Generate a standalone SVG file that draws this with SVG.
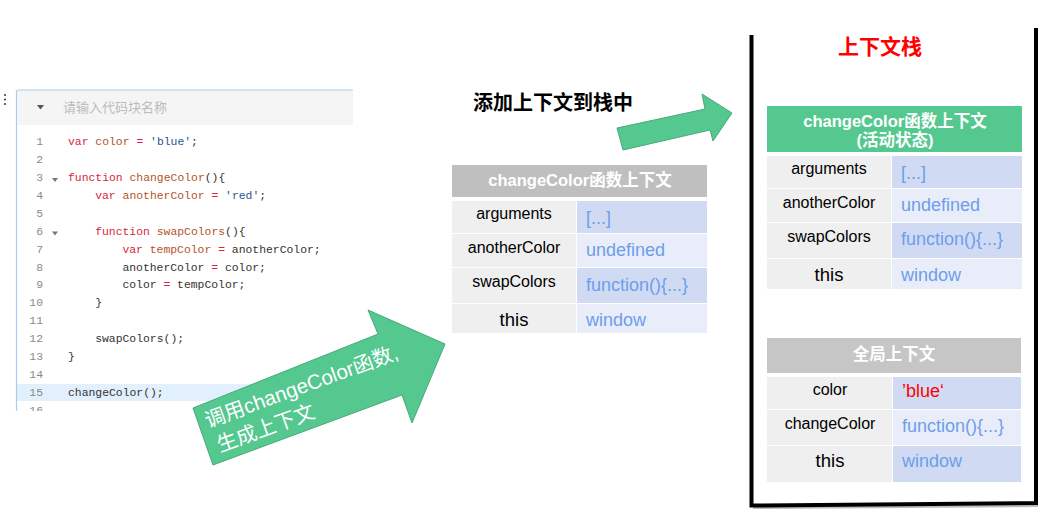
<svg xmlns="http://www.w3.org/2000/svg" width="1057" height="521" viewBox="0 0 1057 521">
<style>
text{font-family:"Liberation Sans","Noto Sans CJK SC",sans-serif;}
.code{font-family:"Liberation Mono","DejaVu Sans Mono",monospace;font-size:11.4px;fill:#333;}
.ln{font-family:"Liberation Mono","DejaVu Sans Mono",monospace;font-size:11.4px;fill:#8a8a8a;text-anchor:end;}
.kw{fill:#d7263d;}
.df{fill:#b4552a;}
.op{fill:#d7263d;}
.st{fill:#2a5490;}
.hd{fill:#fff;font-weight:bold;font-size:16.5px;text-anchor:middle;}
.k{fill:#000;font-size:16px;text-anchor:middle;}
.kt{fill:#000;font-size:18.5px;text-anchor:middle;}
.v{fill:#6d9eeb;font-size:18px;}
.lc{fill:#efefef;}
.d1{fill:#d0dbf3;}
.d2{fill:#e8edf9;}
.arrow{fill:#55c890;stroke:#49a97b;stroke-width:1;}
</style>
<defs>
<clipPath id="edclip"><rect x="16" y="90" width="337" height="321"/></clipPath>
</defs>
<rect width="1057" height="521" fill="#fff"/>

<!-- code editor -->
<g id="editor">
<circle cx="5" cy="95" r="1.1" fill="#444"/>
<circle cx="5" cy="99.5" r="1.1" fill="#444"/>
<circle cx="5" cy="104" r="1.1" fill="#444"/>
<g clip-path="url(#edclip)">
<rect x="16" y="90" width="337" height="321" fill="#fff"/>
<rect x="16" y="90" width="337" height="35" fill="#f5f5f5"/>
<rect x="17" y="384" width="336" height="17" fill="#e1f0fc"/>
<path d="M37,105 L44,105 L40.5,109.5 Z" fill="#555"/>
<text x="63" y="112" font-size="13" fill="#bbb">请输入代码块名称</text>
<path d="M52,178 L58,178 L55,182 Z" fill="#777"/>
<path d="M52,231.5 L58,231.5 L55,235.5 Z" fill="#777"/>
<text class="ln" x="43" y="145">1</text>
<text class="ln" x="43" y="162.9">2</text>
<text class="ln" x="43" y="180.9">3</text>
<text class="ln" x="43" y="198.8">4</text>
<text class="ln" x="43" y="216.7">5</text>
<text class="ln" x="43" y="234.7">6</text>
<text class="ln" x="43" y="252.6">7</text>
<text class="ln" x="43" y="270.5">8</text>
<text class="ln" x="43" y="288.4">9</text>
<text class="ln" x="43" y="306.4">10</text>
<text class="ln" x="43" y="324.3">11</text>
<text class="ln" x="43" y="342.2">12</text>
<text class="ln" x="43" y="360.2">13</text>
<text class="ln" x="43" y="378.1">14</text>
<text class="ln" x="43" y="396">15</text>
<text class="ln" x="43" y="414">16</text>
<g xml:space="preserve">
<text class="code" x="68" y="145"><tspan class="kw">var</tspan> <tspan class="df">color</tspan> <tspan class="op">=</tspan> <tspan class="st">'blue'</tspan>;</text>
<text class="code" x="68" y="180.9"><tspan class="kw">function</tspan> <tspan class="df">changeColor</tspan>(){</text>
<text class="code" x="95.2" y="198.8"><tspan class="kw">var</tspan> <tspan class="df">anotherColor</tspan> <tspan class="op">=</tspan> <tspan class="st">'red'</tspan>;</text>
<text class="code" x="95.2" y="234.7"><tspan class="kw">function</tspan> <tspan class="df">swapColors</tspan>(){</text>
<text class="code" x="122.4" y="252.6"><tspan class="kw">var</tspan> <tspan class="df">tempColor</tspan> <tspan class="op">=</tspan> anotherColor;</text>
<text class="code" x="122.4" y="270.5">anotherColor <tspan class="op">=</tspan> color;</text>
<text class="code" x="122.4" y="288.4">color <tspan class="op">=</tspan> tempColor;</text>
<text class="code" x="95.2" y="306.4">}</text>
<text class="code" x="95.2" y="342.2">swapColors();</text>
<text class="code" x="68" y="360.2">}</text>
<text class="code" x="68" y="396">changeColor();</text>
</g>
</g>
<path d="M16.5,411 L16.5,92 Q16.5,90 18.5,90 L353,90" fill="none" stroke="#a9cdf2" stroke-width="1.2"/>
</g>

<!-- connectors (arrows) -->
<g id="connectors">
<g id="arrow-call">
<polygon class="arrow" points="193,408 378,334 368,310 445,344 412,423 402,395 213,465"/>
<g transform="translate(208,428) rotate(-20)">
<text x="0" y="0" font-size="20.5" fill="#fff">调用changeColor函数,</text>
<text x="3" y="27" font-size="20.5" fill="#fff">生成上下文</text>
</g>
</g>
<g id="arrow-push">
<polygon class="arrow" points="617,128 705,109 702,94 732,113 713,141 710,130 623,150"/>
</g>
</g>
<text x="473" y="110" font-size="20" font-weight="bold" fill="#000">添加上下文到栈中</text>

<!-- middle table -->
<g id="ctx-change">
<rect x="452" y="165" width="255" height="32" fill="#bfbfbf"/>
<text class="hd" x="580" y="186">changeColor函数上下文</text>
<rect class="lc" x="452" y="201" width="124" height="32"/>
<rect class="d1" x="577" y="201" width="130" height="32"/>
<rect class="lc" x="452" y="234" width="124" height="33"/>
<rect class="d2" x="577" y="234" width="130" height="33"/>
<rect class="lc" x="452" y="268" width="124" height="35"/>
<rect class="d1" x="577" y="268" width="130" height="35"/>
<rect class="lc" x="452" y="304" width="124" height="29"/>
<rect class="d2" x="577" y="304" width="130" height="29"/>
<text class="k" x="514" y="219">arguments</text>
<text class="v" x="586" y="224">[...]</text>
<text class="k" x="514" y="253">anotherColor</text>
<text class="v" x="586" y="256">undefined</text>
<text class="k" x="514" y="287">swapColors</text>
<text class="v" x="586" y="291">function(){...}</text>
<text class="kt" x="514" y="326">this</text>
<text class="v" x="586" y="326">window</text>
</g>

<!-- stack -->
<g id="stack">
<path d="M753,508 L1038,506" fill="none" stroke="#bbb" stroke-width="2"/>
<path d="M751.5,35 L751.5,505.5 L1036,503 L1036,28" fill="none" stroke="#000" stroke-width="4"/>
<text x="880" y="54" font-size="21" font-weight="bold" fill="#ff0000" text-anchor="middle">上下文栈</text>
</g>

<g id="ctx-active">
<rect x="767" y="106" width="255" height="46" fill="#55c890"/>
<text class="hd" x="895" y="127">changeColor函数上下文</text>
<text class="hd" x="895" y="146">(活动状态)</text>
<rect class="lc" x="767" y="156" width="124" height="32"/>
<rect class="d1" x="892" y="156" width="130" height="32"/>
<rect class="lc" x="767" y="189" width="124" height="33"/>
<rect class="d2" x="892" y="189" width="130" height="33"/>
<rect class="lc" x="767" y="223" width="124" height="35"/>
<rect class="d1" x="892" y="223" width="130" height="35"/>
<rect class="lc" x="767" y="259" width="124" height="30"/>
<rect class="d2" x="892" y="259" width="130" height="30"/>
<text class="k" x="829" y="174">arguments</text>
<text class="v" x="901" y="179">[...]</text>
<text class="k" x="829" y="208">anotherColor</text>
<text class="v" x="901" y="211">undefined</text>
<text class="k" x="829" y="242">swapColors</text>
<text class="v" x="901" y="245">function(){...}</text>
<text class="kt" x="829" y="281">this</text>
<text class="v" x="901" y="281">window</text>
</g>

<g id="ctx-global">
<rect x="767" y="338" width="254" height="35" fill="#c6c6c6"/>
<text class="hd" x="894" y="360">全局上下文</text>
<rect class="lc" x="767" y="377" width="125" height="32"/>
<rect class="d1" x="893" y="377" width="128" height="32"/>
<rect class="lc" x="767" y="410" width="125" height="35"/>
<rect class="d2" x="893" y="410" width="128" height="35"/>
<rect class="lc" x="767" y="446" width="125" height="36"/>
<rect class="d1" x="893" y="446" width="128" height="36"/>
<text class="k" x="830" y="395">color</text>
<text class="v" x="902" y="397" fill="#ff0000" style="fill:#ff0000">’blue‘</text>
<text class="k" x="830" y="429">changeColor</text>
<text class="v" x="902" y="432">function(){...}</text>
<text class="kt" x="830" y="467">this</text>
<text class="v" x="902" y="467">window</text>
</g>
</svg>
